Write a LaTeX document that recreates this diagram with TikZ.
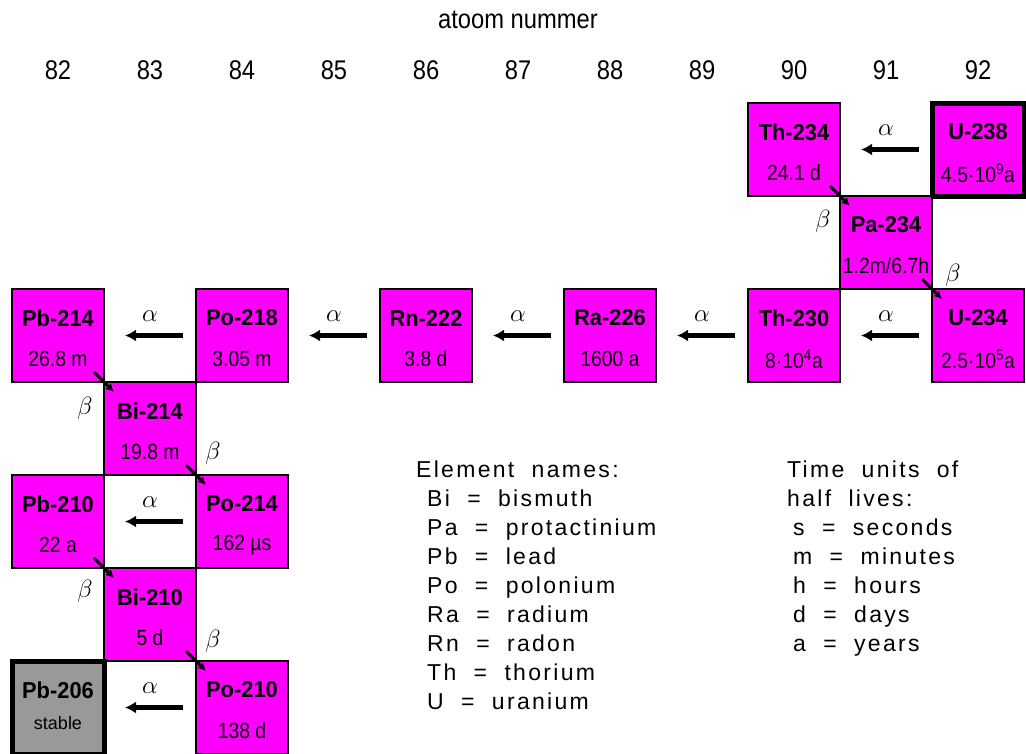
\documentclass[tikz,border=0pt]{standalone}
\usepackage{fix-cm}
\usepackage{fontspec}
\setmainfont{Liberation Sans}
\newfontfamily\isoNameFont[FakeStretch=0.95]{Liberation Sans}
\newfontfamily\isoLifeFont[FakeStretch=0.88]{Liberation Sans}
\newfontfamily\headFont[FakeStretch=0.88]{Liberation Sans}
\newfontfamily\legendFont[LetterSpace=10, WordSpace=2]{Liberation Sans}
\usetikzlibrary{positioning, arrows.meta}
\definecolor{isoFill}{RGB}{255, 0, 255}
\definecolor{stableFill}{RGB}{153, 153, 153}
\tikzset{
    iso_box/.style={
        draw=black,
        line width=1.8pt,
        fill=isoFill,
        minimum width=92pt,
        minimum height=93pt,
        inner sep=0pt,
        outer sep=0pt,
        anchor=north west
    },
    parent_box/.style={
        iso_box,
        line width=5pt
    },
    stable_box/.style={
        iso_box,
        line width=5pt,
        fill=stableFill
    },
    iso_name/.style={
        font=\isoNameFont\bfseries\fontsize{23}{27}\selectfont,
        inner sep=0pt,
        anchor=center,
        yshift=-29pt
    },
    iso_life/.style={
        font=\isoLifeFont\fontsize{22}{26}\selectfont,
        inner sep=0pt,
        anchor=center,
        yshift=-70pt
    },
    stable_life/.style={
        font=\fontsize{18}{22}\selectfont,
        inner sep=0pt,
        anchor=center,
        yshift=-62pt
    },
    alpha_edge/.style={
        -{Latex[length=11pt, width=12pt]},
        line width=5pt,
        draw=black
    },
    beta_edge/.style={
        -{Latex[length=8pt, width=8pt]},
        line width=3pt,
        draw=black
    },
    decay_label/.style={
        font=\fontsize{25}{28}\selectfont,
        inner sep=0pt
    },
    col_num/.style={
        font=\headFont\fontsize{27}{30}\selectfont,
        inner sep=0pt
    },
    legend_text/.style={
        font=\legendFont\fontsize{23}{27}\selectfont,
        inner sep=0pt,
        anchor=base west
    }
}

\begin{document}
\begin{tikzpicture}[x=1pt, y=-1pt]
    \useasboundingbox (0,0) rectangle (1026,753);

    \node[col_num] (axis_title) at (518,20) {atoom nummer};
    \foreach \z [count=\i from 0] in {82,...,92}
        \node[col_num] (z\z) at (58+92*\i,70) {\z};

    % uranium series, one box per nuclide
    \node[parent_box, label={[iso_name]north:U-238}, label={[iso_life]north:4.5·10\textsuperscript{9}a}] (u238) at (932,103) {};
    \node[iso_box, label={[iso_name]north:Th-234}, label={[iso_life]north:24.1 d}] (th234) at (748,103) {};
    \node[iso_box, label={[iso_name]north:Pa-234}, label={[iso_life]north:1.2m/6.7h}] (pa234) at (840,196) {};
    \node[iso_box, label={[iso_name]north:U-234}, label={[iso_life]north:2.5·10\textsuperscript{5}a}] (u234) at (932,289) {};
    \node[iso_box, label={[iso_name]north:Th-230}, label={[iso_life]north:8·10\textsuperscript{4}a}] (th230) at (748,289) {};
    \node[iso_box, label={[iso_name]north:Ra-226}, label={[iso_life]north:1600 a}] (ra226) at (564,289) {};
    \node[iso_box, label={[iso_name]north:Rn-222}, label={[iso_life]north:3.8 d}] (rn222) at (380,289) {};
    \node[iso_box, label={[iso_name]north:Po-218}, label={[iso_life]north:3.05 m}] (po218) at (196,289) {};
    \node[iso_box, label={[iso_name]north:Pb-214}, label={[iso_life]north:26.8 m}] (pb214) at (12,289) {};
    \node[iso_box, label={[iso_name]north:Bi-214}, label={[iso_life]north:19.8 m}] (bi214) at (104,382) {};
    \node[iso_box, label={[iso_name]north:Po-214}, label={[iso_life]north:162 µs}] (po214) at (196,475) {};
    \node[iso_box, label={[iso_name]north:Pb-210}, label={[iso_life]north:22 a}] (pb210) at (12,475) {};
    \node[iso_box, label={[iso_name]north:Bi-210}, label={[iso_life]north:5 d}] (bi210) at (104,568) {};
    \node[iso_box, label={[iso_name]north:Po-210}, label={[iso_life]north:138 d}] (po210) at (196,661) {};
    \node[stable_box, label={[iso_name]north:Pb-206}, label={[stable_life]north:stable}] (pb206) at (12,661) {};

    % alpha decays
    \foreach \from/\to in {u238/th234, u234/th230, th230/ra226, ra226/rn222,
        rn222/po218, po218/pb214, po214/pb210, po210/pb206}
        \draw[alpha_edge] ([xshift=-13pt]\from.west) -- ([xshift=21pt]\to.east)
            node[decay_label, pos=0.57, above=12pt] {$\alpha$};

    % beta decays
    \draw[beta_edge] ([shift={(-10,-10)}]th234.south east) -- ([shift={(10,10)}]pa234.north west)
        node[decay_label, midway, shift={(-17,25)}] {$\beta$};
    \draw[beta_edge] ([shift={(-10,-10)}]pa234.south east) -- ([shift={(10,10)}]u234.north west)
        node[decay_label, midway, shift={(21,-14)}] {$\beta$};
    \draw[beta_edge] ([shift={(-10,-10)}]pb214.south east) -- ([shift={(10,10)}]bi214.north west)
        node[decay_label, midway, shift={(-19,26)}] {$\beta$};
    \draw[beta_edge] ([shift={(-10,-10)}]bi214.south east) -- ([shift={(10,10)}]po214.north west)
        node[decay_label, midway, shift={(17,-22)}] {$\beta$};
    \draw[beta_edge] ([shift={(-10,-10)}]pb210.south east) -- ([shift={(10,10)}]bi210.north west)
        node[decay_label, midway, shift={(-19,23)}] {$\beta$};
    \draw[beta_edge] ([shift={(-10,-10)}]bi210.south east) -- ([shift={(10,10)}]po210.north west)
        node[decay_label, midway, shift={(17,-20)}] {$\beta$};

    % legends
    \node[legend_text] (names_title) at (416,477) {Element names:};
    \foreach \txt [count=\i] in {Bi = bismuth, Pa = protactinium, Pb = lead,
        Po = polonium, Ra = radium, Rn = radon, Th = thorium, U = uranium}
        \node[legend_text] (name\i) at (427,477+29*\i) {\txt};
    \node[legend_text] (units_title) at (787,477) {Time units of};
    \node[legend_text] (units_title2) at (787,506) {half lives:};
    \foreach \txt [count=\i from 2] in {s = seconds, m = minutes, h = hours,
        d = days, a = years}
        \node[legend_text] (unit\i) at (793,477+29*\i) {\txt};
\end{tikzpicture}
\end{document}
